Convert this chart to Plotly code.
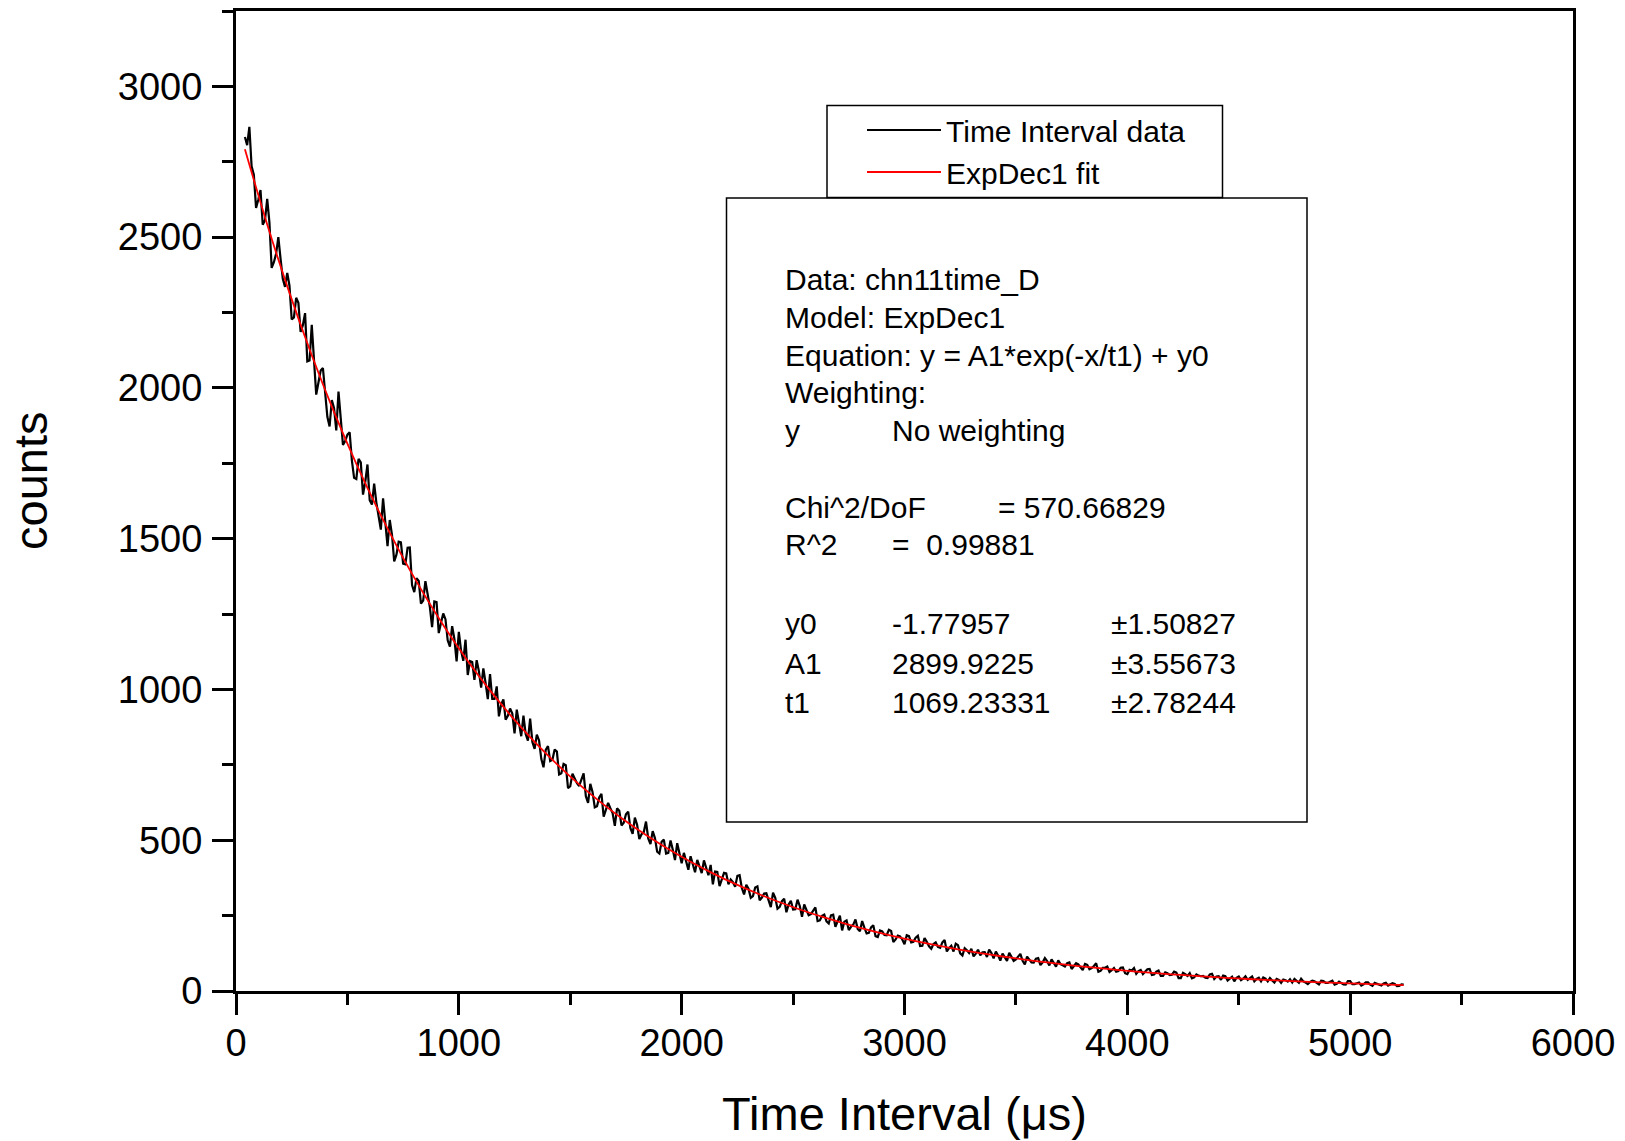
import plotly.graph_objects as go

# ---------------- data ----------------
time_start = 40      # first bin, µs
time_step = 10       # bin spacing, µs
counts = [
    2832, 2805, 2866, 2735, 2707, 2597, 2624, 2656, 2541, 2556,
    2627, 2549, 2398, 2417, 2445, 2500, 2428, 2362, 2335, 2381,
    2339, 2227, 2234, 2299, 2282, 2186, 2208, 2248, 2088, 2091,
    2209, 2098, 1978, 2018, 2058, 2066, 1980, 1904, 1872, 1960,
    1933, 1859, 1988, 1893, 1811, 1824, 1845, 1853, 1760, 1702,
    1698, 1765, 1753, 1646, 1688, 1746, 1628, 1613, 1683, 1619,
    1576, 1530, 1634, 1564, 1475, 1562, 1513, 1425, 1447, 1490,
    1488, 1417, 1415, 1470, 1471, 1346, 1323, 1369, 1360, 1285,
    1295, 1359, 1317, 1273, 1207, 1292, 1290, 1187, 1221, 1252,
    1233, 1163, 1142, 1210, 1168, 1093, 1191, 1129, 1095, 1165,
    1048, 1094, 1091, 1032, 1097, 1061, 1006, 1070, 1022, 968,
    1051, 969, 969, 1010, 911, 951, 967, 900, 913, 937,
    920, 854, 933, 888, 845, 913, 852, 830, 903, 826,
    803, 850, 831, 770, 742, 800, 812, 763, 767, 801,
    794, 718, 722, 753, 749, 673, 679, 721, 706, 689,
    680, 702, 722, 646, 624, 687, 660, 609, 613, 642,
    654, 578, 600, 624, 606, 590, 548, 606, 598, 549,
    558, 586, 595, 540, 521, 575, 551, 504, 520, 527,
    562, 506, 487, 530, 507, 462, 456, 495, 502, 456,
    458, 499, 469, 434, 490, 454, 424, 458, 433, 402,
    447, 416, 394, 435, 415, 391, 433, 407, 384, 418,
    354, 396, 395, 348, 370, 392, 390, 354, 370, 361,
    346, 382, 384, 342, 320, 352, 339, 309, 315, 343,
    347, 301, 310, 323, 324, 298, 278, 326, 309, 273,
    279, 298, 306, 261, 287, 299, 270, 271, 303, 282,
    246, 287, 269, 251, 255, 268, 277, 232, 234, 249,
    253, 231, 224, 251, 253, 213, 231, 250, 201, 230,
    234, 202, 213, 220, 237, 206, 198, 232, 210, 191,
    193, 211, 218, 182, 179, 201, 198, 186, 185, 203,
    199, 162, 171, 184, 181, 171, 155, 185, 182, 161,
    163, 177, 183, 149, 150, 176, 163, 148, 140, 156,
    161, 146, 143, 161, 169, 131, 142, 150, 131, 157,
    152, 125, 118, 142, 135, 126, 140, 115, 124, 137,
    118, 128, 129, 113, 137, 126, 108, 131, 118, 101,
    124, 111, 100, 127, 114, 100, 105, 113, 123, 100,
    88, 114, 105, 95, 94, 107, 109, 86, 95, 109,
    99, 85, 105, 94, 81, 102, 89, 85, 81, 92,
    95, 73, 81, 92, 88, 80, 69, 90, 87, 72,
    76, 83, 92, 64, 67, 77, 77, 81, 63, 69,
    76, 64, 66, 77, 78, 59, 56, 70, 68, 76,
    57, 66, 70, 56, 63, 72, 73, 53, 55, 64,
    68, 50, 50, 62, 59, 53, 54, 64, 61, 43,
    43, 60, 56, 50, 59, 42, 45, 55, 51, 49,
    50, 44, 43, 55, 57, 40, 48, 49, 37, 51,
    49, 35, 41, 47, 32, 44, 48, 36, 41, 49,
    37, 43, 48, 32, 40, 44, 32, 45, 41, 32,
    43, 35, 28, 40, 37, 27, 38, 36, 31, 39,
    28, 40, 35, 27, 41, 32, 28, 23, 30, 34,
    32, 27, 22, 34, 33, 27, 27, 31, 34, 21,
    24, 31, 27, 22, 21, 33, 33, 23, 23, 26,
    28, 18, 22, 29, 29, 21, 17, 27, 24, 21,
    18, 25, 27, 18, 21, 26, 23, 16, 17, 22,
    21,
]

fit_start = 40
fit_step = 100
fit_counts = [
    2791.7, 2542.3, 2315.1, 2108.3, 1919.9, 1748.3, 1592.1, 1449.8, 1320.2, 1202.2,
    1094.7, 996.8, 907.6, 826.4, 752.5, 685.1, 623.8, 567.9, 517.1, 470.8,
    428.6, 390.1, 355.1, 323.3, 294.3, 267.8, 243.8, 221.8, 201.9, 183.7,
    167.1, 152.0, 138.3, 125.8, 114.4, 104.0, 94.6, 86.0, 78.1, 71.0,
    64.5, 58.6, 53.2, 48.3, 43.8, 39.8, 36.0, 32.7, 29.6, 26.8,
    24.2, 21.9, 19.8,
]

x_tick_vals = [0, 1000, 2000, 3000, 4000, 5000, 6000]
y_tick_vals = [0, 500, 1000, 1500, 2000, 2500, 3000]

x_title = "Time Interval (μs)"
y_title = "counts"
series_names = ["Time Interval data", "ExpDec1 fit"]

info_lines = [
    "Data: chn11time_D",
    "Model: ExpDec1",
    "Equation: y = A1*exp(-x/t1) + y0",
    "Weighting:",
]
weight_label = ["y", "No weighting"]
chi2_label = ["Chi^2/DoF", "= 570.66829"]
r2_label = ["R^2", "=  0.99881"]
param_names = ["y0", "A1", "t1"]
param_values = ["-1.77957", "2899.9225", "1069.23331"]
param_errors = ["1.50827", "3.55673", "2.78244"]

# ---------------- layout geometry (pixels) ----------------
W, H = 1625, 1141
PL, PR, PT, PB = 236, 1573, 11, 991   # plot-area edges in pixels

def px(xp):
    return (xp - PL) / (PR - PL)

def py(yp):
    return (PB - yp) / (PB - PT)

FONT = "Liberation Sans, Arial, Helvetica, sans-serif"

fig = go.Figure()
fig.add_trace(go.Scatter(
    y=counts, x0=time_start, dx=time_step, mode="lines",
    name=series_names[0], line=dict(color="black", width=2.2),
))
fig.add_trace(go.Scatter(
    y=fit_counts, x0=fit_start, dx=fit_step, mode="lines",
    name=series_names[1], line=dict(color="#ff0000", width=1.8, shape="spline"),
))

axis_common = dict(
    showline=True, linecolor="black", linewidth=3, mirror=True,
    ticks="outside", ticklen=21, tickwidth=3, tickcolor="black",
    showgrid=False, zeroline=False,
    tickfont=dict(family=FONT, size=38, color="black"),
)

fig.update_xaxes(
    range=[0, 6000], tickvals=x_tick_vals, ticklabelstandoff=-5,
    minor=dict(dtick=500, tick0=0, ticks="outside", ticklen=11, tickwidth=3,
               tickcolor="black", showgrid=False),
    title=dict(text=x_title, font=dict(family=FONT, size=47, color="black"),
               standoff=35),
    **axis_common,
)
fig.update_yaxes(
    range=[0, 3250], tickvals=y_tick_vals, ticklabelstandoff=2,
    minor=dict(dtick=250, tick0=0, ticks="outside", ticklen=11, tickwidth=3,
               tickcolor="black", showgrid=False),
    **axis_common,
)

shapes = [
    # fit-report box
    dict(type="rect", xref="paper", yref="paper",
         x0=px(726.5), x1=px(1307), y0=py(822), y1=py(198),
         line=dict(color="black", width=1.5), fillcolor="white", layer="above"),
    # legend frame
    dict(type="rect", xref="paper", yref="paper",
         x0=px(827), x1=px(1222.5), y0=py(197.5), y1=py(105.5),
         line=dict(color="black", width=1.5), fillcolor="white", layer="above"),
]

annotations = [
    # y-axis title (placed slightly above the axis centre, as in the reference)
    dict(text=y_title, xref="paper", yref="paper", x=px(30), y=py(481),
         xanchor="center", yanchor="middle", textangle=-90, showarrow=False,
         font=dict(family=FONT, size=47, color="black")),
]

def add_text(text, xp, yp):
    annotations.append(dict(
        text=text, xref="paper", yref="paper", x=px(xp), y=py(yp),
        xanchor="left", yanchor="middle", showarrow=False,
        font=dict(family=FONT, size=30, color="black"),
    ))

C1, C2, C2b, C3 = 783, 890, 996, 1109
rows = [280, 317.5, 355, 392.5, 430.5]
for t, yy in zip(info_lines, rows[:4]):
    add_text(t, C1, yy)
add_text(weight_label[0], C1, rows[4])
add_text(weight_label[1], C2, rows[4])
add_text(chi2_label[0], C1, 507)
add_text(chi2_label[1], C2b, 507)
add_text(r2_label[0], C1, 544.5)
add_text(r2_label[1], C2, 544.5)
for name, val, err, yy in zip(param_names, param_values, param_errors, [623.5, 663, 702.5]):
    add_text(name, C1, yy)
    add_text(val, C2, yy)
    add_text("±" + err, C3, yy)

fig.update_layout(
    width=W, height=H,
    margin=dict(l=PL, r=W - PR, t=PT, b=H - PB, autoexpand=False),
    paper_bgcolor="white", plot_bgcolor="white",
    font=dict(family=FONT, color="black"),
    showlegend=True,
    legend=dict(
        x=px(862), y=py(104), xanchor="left", yanchor="top",
        bgcolor="rgba(0,0,0,0)", borderwidth=0,
        font=dict(family=FONT, size=30, color="black"),
        itemwidth=74, traceorder="normal",
    ),
    shapes=shapes,
    annotations=annotations,
)

fig.write_html("out.html", config={"displayModeBar": False},
               post_script="document.body.style.margin='0';")
